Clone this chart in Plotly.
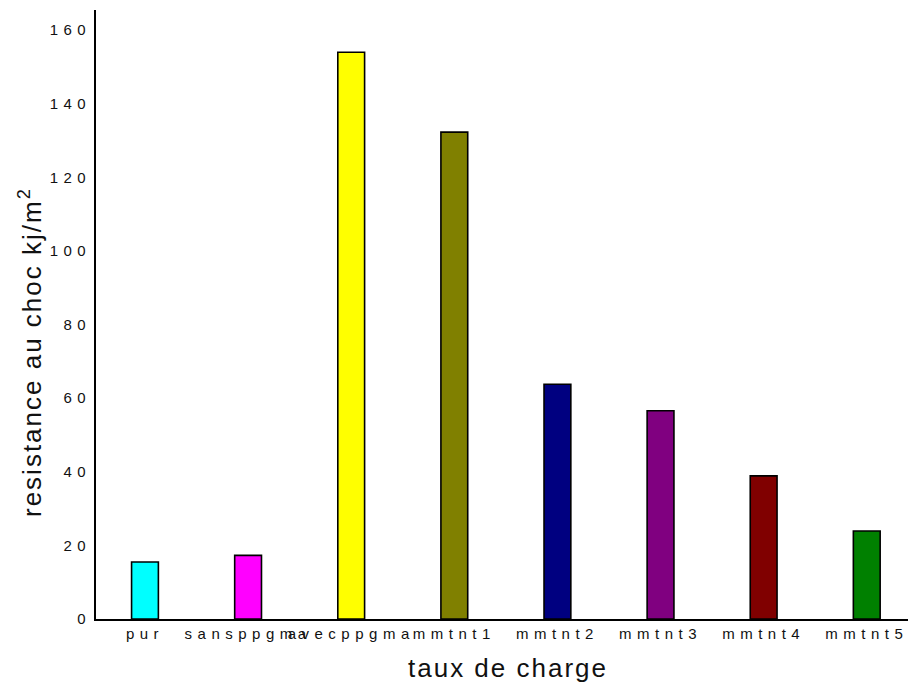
import plotly.graph_objects as go

# Impact strength per filler formulation
categories = ["pur", "sansppgma", "avecppgma", "mmtnt1", "mmtnt2", "mmtnt3", "mmtnt4", "mmtnt5"]
resistance = [15.5, 17.3, 154.0, 132.3, 63.8, 56.6, 38.9, 23.9]
bar_colors = ["#00FFFF", "#FF00FF", "#FFFF00", "#808000", "#000080", "#800080", "#800000", "#008000"]
y_ticks = [0, 20, 40, 60, 80, 100, 120, 140, 160]

FONT = "Liberation Sans, Arial, sans-serif"

fig = go.Figure(
    go.Bar(
        x=categories,
        y=resistance,
        width=0.26,
        marker=dict(color=bar_colors, line=dict(color="#000000", width=1.6)),
        showlegend=False,
    )
)

fig.update_layout(
    width=908,
    height=686,
    margin=dict(l=96, r=0, t=10, b=67),
    paper_bgcolor="white",
    plot_bgcolor="white",
    font=dict(family=FONT, color="#111111"),
    xaxis=dict(
        type="category",
        range=[-0.475, 7.4],
        showgrid=False,
        zeroline=False,
        showline=True,
        linecolor="#000000",
        linewidth=1.6,
        ticks="",
        tickfont=dict(family=FONT, size=15, color="#111111"),
    ),
    yaxis=dict(
        range=[0, 165.5],
        tickvals=y_ticks,
        showgrid=False,
        zeroline=False,
        showline=True,
        linecolor="#000000",
        linewidth=1.6,
        ticks="",
        tickfont=dict(family=FONT, size=15, color="#111111"),
    ),
    annotations=[
        dict(
            text="resistance au choc kj/m<sup>2</sup>",
            xref="paper", yref="paper",
            x=(30 - 96) / 812, y=(619 - 352) / 609,
            xanchor="center", yanchor="middle",
            textangle=-90,
            showarrow=False,
            font=dict(family=FONT, size=26, color="#111111"),
        ),
        dict(
            text="taux de charge",
            xref="paper", yref="paper",
            x=(508 - 96) / 812, y=(619 - 668) / 609,
            xanchor="center", yanchor="middle",
            showarrow=False,
            font=dict(family=FONT, size=26, color="#111111"),
        ),
    ],
)

# Wide letter spacing on the axis texts
spacing_js = """
var gd = document.getElementById('{plot_id}');
function spaceText() {
  gd.querySelectorAll('.xtick text, .ytick text').forEach(function (t) {
    t.style.letterSpacing = '5.5px';
  });
  gd.querySelectorAll('.annotation-text').forEach(function (t) {
    t.style.letterSpacing = '2px';
  });
}
spaceText();
gd.on('plotly_afterplot', spaceText);
"""

fig.write_html("out.html", post_script=spacing_js)
